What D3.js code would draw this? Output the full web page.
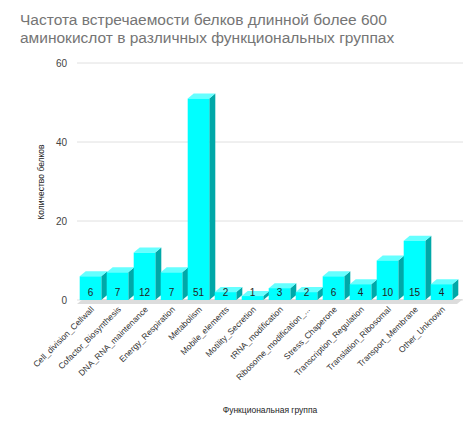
<!DOCTYPE html>
<html><head><meta charset="utf-8">
<script src="https://cdn.jsdelivr.net/npm/d3@7"></script>
<style>body{margin:0;background:#fff}svg{font-family:Arial,"Liberation Sans",sans-serif}</style>
</head><body><svg width="472" height="432"></svg>
<script>
const categories = ["Cell_division_Cellwall","Cofactor_Biosynthesis","DNA_RNA_maintenance","Energy_Respiration","Metabolism","Mobile_elements","Motility_Secretion","tRNA_modification","Ribosome_modification_...","Stress_Chaperone","Transcription_Regulation","Translation_Ribosomal","Transport_Membrane","Other_Unknown"];
const values = [6,7,12,7,51,2,1,3,2,6,4,10,15,4];
const yTicks = [0,20,40,60];

const svg = d3.select("svg");
const m = {left:77, right:463, top:63, bottom:300};
const x = d3.scaleBand().domain(categories).range([m.left, m.right - 8]).paddingInner(0.2).paddingOuter(0.1);
const y = d3.scaleLinear().domain([0,60]).range([m.bottom, m.top]);
const dx = 6, dy = 5;

svg.append("text").attr("x",20).attr("y",25).attr("fill","#757575").attr("font-size",15.5).text("Частота встречаемости белков длинной более 600");
svg.append("text").attr("x",20).attr("y",43).attr("fill","#757575").attr("font-size",15.5).text("аминокислот в различных функциональных группах");

svg.append("g").selectAll("line").data(yTicks).join("line")
  .attr("x1",m.left).attr("x2",m.right).attr("y1",d=>y(d)).attr("y2",d=>y(d))
  .attr("stroke","#e0e0e0");
svg.append("g").selectAll("text").data(yTicks).join("text")
  .attr("x",m.left-10).attr("y",d=>y(d)+4).attr("text-anchor","end")
  .attr("font-size",10).attr("fill","#444").text(d=>d);

// floor
svg.append("path").attr("fill","#dcdcdc")
  .attr("d",`M${m.left},${m.bottom+4}L${m.left+dx},${m.bottom-1}L${m.right},${m.bottom-1}L${m.right-dx},${m.bottom+4}Z`);

const bars = svg.append("g").selectAll("g").data(categories).join("g");
const w = x.bandwidth();
bars.each(function(c,i){
  const g = d3.select(this), x0 = x(c), yt = y(values[i]), yb = y(0);
  g.append("path").attr("fill","#00a8a8")
    .attr("d",`M${x0+w},${yb}L${x0+w+dx},${yb-dy}L${x0+w+dx},${yt-dy}L${x0+w},${yt}Z`);
  g.append("path").attr("fill","#66ffff")
    .attr("d",`M${x0},${yt}L${x0+dx},${yt-dy}L${x0+w+dx},${yt-dy}L${x0+w},${yt}Z`);
  g.append("rect").attr("x",x0).attr("y",yt).attr("width",w).attr("height",yb-yt).attr("fill","#00ffff");
  g.append("text").attr("x",x0+w/2).attr("y",yb-4).attr("text-anchor","middle")
    .attr("font-size",10).attr("fill","#222").text(values[i]);
  g.append("text").attr("transform",`translate(${x0+w/2+4},${yb+10}) rotate(-45)`)
    .attr("text-anchor","end").attr("font-size",8.5).attr("fill","#333").text(c);
});

svg.append("text").attr("transform","translate(44,182) rotate(-90)").attr("text-anchor","middle")
  .attr("font-size",8.5).attr("fill","#222").text("Количество белков");
svg.append("text").attr("x",270).attr("y",413).attr("text-anchor","middle")
  .attr("font-size",8.5).attr("fill","#222").text("Функциональная группа");
</script></body></html>
